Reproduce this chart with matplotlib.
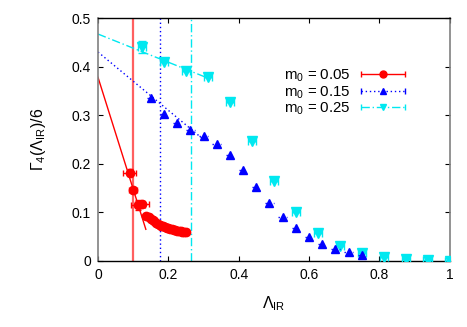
import matplotlib
matplotlib.use("Agg")
import matplotlib.pyplot as plt
from matplotlib.legend_handler import HandlerErrorbar
import numpy as np

# ---- data ----
x_red = [0.09, 0.10, 0.1125, 0.125, 0.1375, 0.145, 0.15, 0.155, 0.16, 0.165, 0.17,
         0.175, 0.18, 0.185, 0.19, 0.195, 0.20, 0.205, 0.21, 0.215, 0.22, 0.225,
         0.23, 0.235, 0.24, 0.245, 0.25]
y_red = [0.182, 0.146, 0.115, 0.117, 0.093, 0.090, 0.087, 0.084, 0.0815, 0.079, 0.077,
         0.075, 0.073, 0.0715, 0.070, 0.0685, 0.067, 0.066, 0.065, 0.064, 0.063, 0.0622,
         0.0615, 0.0608, 0.060, 0.0595, 0.059]
xerr_red = [0.019, 0.011, 0.02, 0.02, 0.006] + [0.004] * 22
yerr_red = [0.008, 0.007, 0.010, 0.006, 0.004] + [0.002] * 22

x_blue = [0.15, 0.1875, 0.225, 0.2625, 0.30, 0.3375, 0.375, 0.4125, 0.45, 0.4875,
          0.525, 0.5625, 0.60, 0.6375, 0.675, 0.7125, 0.75]
y_blue = [0.336, 0.302, 0.284, 0.270, 0.257, 0.241, 0.218, 0.187, 0.152, 0.119,
          0.091, 0.068, 0.049, 0.035, 0.025, 0.019, 0.012]

x_cyan = [0.125, 0.1875, 0.25, 0.3125, 0.375, 0.4375, 0.5, 0.5625, 0.625, 0.6875,
          0.75, 0.8125, 0.875, 0.9375, 1.0]
y_cyan = [0.441, 0.409, 0.391, 0.378, 0.327, 0.247, 0.165, 0.101, 0.058, 0.031,
          0.016, 0.008, 0.004, 0.002, 0.0]
yerr_cyan = [0.012] + [0.0] * 14

# linear fits (intercept, slope, x-end)
fit_red = (0.378, -2.30, 0.136)
fit_blue = (0.430, -0.60, 0.30)
fit_cyan = (0.467, -0.29, 0.3125)

# vertical markers
vline_red = 0.10
vline_blue = 0.175
vline_cyan = 0.265

labels = ["m$_0$ = 0.05", "m$_0$ = 0.15", "m$_0$ = 0.25"]
xticks = [0, 0.2, 0.4, 0.6, 0.8, 1.0]
xticklabels = ["0", "0.2", "0.4", "0.6", "0.8", "1"]
yticks = [0, 0.1, 0.2, 0.3, 0.4, 0.5]
yticklabels = ["0", "0.1", "0.2", "0.3", "0.4", "0.5"]

plt.rcParams['font.family'] = ['Liberation Sans', 'DejaVu Sans']
plt.rcParams['mathtext.fontset'] = 'custom'
plt.rcParams['mathtext.rm'] = 'Liberation Sans'
plt.rcParams['mathtext.it'] = 'Liberation Sans:italic'
FS = 10
LFS = 10.8
AFS = 11.5

fig = plt.figure(figsize=(4.67, 3.27), dpi=100)
ax = fig.add_axes([98/467, 1-261/327, (449.7-98)/467, (261-18)/327])

RED = '#ff0000'
BLUE = '#0000ff'
CYAN = '#00e8f0'
DOT = (0, (1, 2))
DASHDOT = (0, (6, 2, 1, 2))

# vertical lines
ax.axvline(vline_red, color='#ff6060', lw=1.6, zorder=1)
ax.axvline(vline_blue, color=BLUE, lw=1.0, ls=DOT, zorder=1)
ax.axvline(vline_cyan, color=CYAN, lw=1.0, ls=DASHDOT, zorder=1)

# fit lines
for (b, m, xe), c, ls in [(fit_red, RED, '-'), (fit_blue, BLUE, DOT),
                          (fit_cyan, CYAN, DASHDOT)]:
    xx = np.array([0.0, xe])
    ax.plot(xx, b + m * xx, color=c, lw=1.0, ls=ls, zorder=2)

# data series
ax.errorbar(x_red, y_red, xerr=xerr_red, yerr=yerr_red, fmt='o', color=RED,
            ms=6, lw=1.0, capsize=2.5, zorder=4)
e2 = ax.errorbar(x_blue, y_blue, xerr=0.012, fmt='^', color=BLUE, ms=6, lw=1.0,
                 capsize=0, zorder=4)
e2[2][0].set_linestyle(DOT)
e3 = ax.errorbar(x_cyan, y_cyan, xerr=0.012, yerr=yerr_cyan, fmt='v', color=CYAN,
                 ms=6.5, lw=1.0, capsize=3, zorder=3)
for lc in e3[2]:
    lc.set_linestyle(DASHDOT)

# legend proxies (x error bar style handles)
handles = []
for c, mk, ls, ms in [(RED, 'o', '-', 5), (BLUE, '^', DOT, 5), (CYAN, 'v', DASHDOT, 5)]:
    h = ax.errorbar([np.nan], [np.nan], xerr=[0.1], fmt=mk, color=c, ms=ms,
                    lw=1.0, capsize=2.5)
    h[2][0].set_linestyle(ls)
    handles.append(h)

ax.set_xlim(0, 1)
ax.set_ylim(0, 0.5)
ax.set_xticks(xticks)
ax.set_xticklabels(xticklabels, fontsize=FS)
ax.set_yticks(yticks)
ax.set_yticklabels(yticklabels, fontsize=FS)
ax.tick_params(direction='in', length=3.5, width=0.8, top=True, right=True, pad=5)

for side in ['left', 'right']:
    ax.spines[side].set_color('#808080')
    ax.spines[side].set_linewidth(1.2)
for side in ['top', 'bottom']:
    ax.spines[side].set_color('black')
    ax.spines[side].set_linewidth(1.0)

ax.set_xlabel(r'$\Lambda_{\rm IR}$', fontsize=AFS)
ax.set_ylabel(r'$\Gamma_4(\Lambda_{\rm IR})/6$', fontsize=AFS)
ax.xaxis.set_label_coords(0.5, -0.135)
ax.yaxis.set_label_coords(-0.143, 0.5)

hl = 46 / (LFS * 100 / 72)
leg = ax.legend(handles, labels, loc='upper left', bbox_to_anchor=(0.512, 0.82),
                frameon=False, markerfirst=False, fontsize=LFS, handlelength=hl,
                handletextpad=0.6, labelspacing=0.0, borderaxespad=0,
                handler_map={type(handles[0]): HandlerErrorbar(xerr_size=hl / 2 * 0.95)})

fig.savefig('out.png', dpi=100)
